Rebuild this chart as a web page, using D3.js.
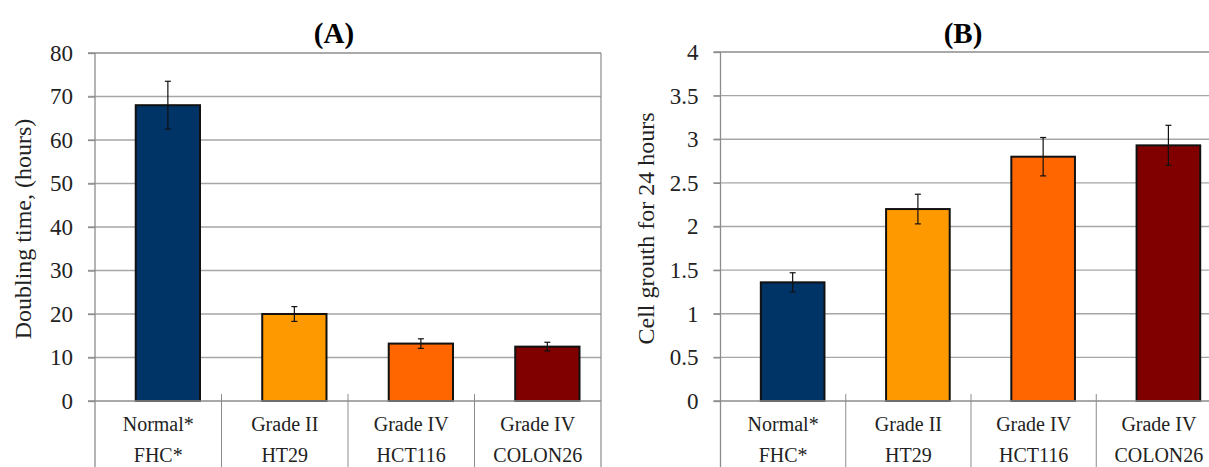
<!DOCTYPE html>
<html>
<head>
<meta charset="utf-8">
<script src="https://cdn.jsdelivr.net/npm/d3@7"></script>
<style>
  body { margin: 0; background: #fff; }
  svg text { font-family: "Liberation Serif", Tinos, "Times New Roman", Times, "DejaVu Serif", serif !important; }
</style>
</head>
<body>
<script>
// chart data
var gradeLabels = ["Normal*", "Grade II", "Grade IV", "Grade IV"];
var cellLines = ["FHC*", "HT29", "HCT116", "COLON26"];
var doublingTime = [68, 20, 13.2, 12.5];
var doublingErr = [5.5, 1.7, 1.1, 1.0];
var cellGrowth = [1.36, 2.2, 2.8, 2.93];
var growthErr = [0.11, 0.17, 0.22, 0.23];
var ticksA = [0, 10, 20, 30, 40, 50, 60, 70, 80];
var ticksB = [0, 0.5, 1, 1.5, 2, 2.5, 3, 3.5, 4];

var barColors = ["#003366", "#ff9900", "#ff6600", "#800000"];

var w = 1209, h = 467;

var svg = d3.select("body")
    .append("svg")
    .attr("width", w)
    .attr("height", h);

//draws one panel
function drawPanel(p){
    var g = svg.append("g");

    var x = d3.scaleBand()
        .domain(cellLines)
        .range([p.left, p.right]);

    var y = d3.scaleLinear()
        .domain([0, p.ticks[p.ticks.length - 1]])
        .range([p.bottom, p.top]);

    //gridlines
    g.selectAll(".grid")
        .data(p.ticks.slice(1))
        .enter()
        .append("line")
        .attr("x1", p.left - 7)
        .attr("x2", p.right)
        .attr("y1", function(d){ return y(d); })
        .attr("y2", function(d){ return y(d); })
        .style("stroke", function(d, i){ return i == p.ticks.length - 2 ? "#8c8c8c" : "#a6a6a6"; })
        .style("stroke-width", function(d, i){ return i == p.ticks.length - 2 ? 1.6 : 1.3; });

    //right border
    g.append("line")
        .attr("x1", p.right).attr("x2", p.right)
        .attr("y1", p.top).attr("y2", h)
        .style("stroke", "#8c8c8c")
        .style("stroke-width", 1.2);

    //y axis
    var yAxis = d3.axisLeft(y)
        .tickValues(p.ticks)
        .tickSize(7)
        .tickPadding(15)
        .tickFormat(d3.format(""));

    var axis = g.append("g")
        .attr("transform", "translate(" + p.left + ",0)")
        .call(yAxis);

    axis.select(".domain").remove();
    axis.selectAll(".tick line")
        .style("stroke", "#8c8c8c")
        .style("stroke-width", 1.3);
    axis.selectAll(".tick text")
        .style("font-size", "23px")
        .style("fill", "#222");

    g.append("line")
        .attr("x1", p.left).attr("x2", p.left)
        .attr("y1", p.top).attr("y2", h)
        .style("stroke", "#8c8c8c")
        .style("stroke-width", 1.3);

    //category dividers
    g.selectAll(".divider")
        .data(cellLines.slice(1))
        .enter()
        .append("line")
        .attr("x1", function(d){ return x(d); })
        .attr("x2", function(d){ return x(d); })
        .attr("y1", p.bottom - 7)
        .attr("y2", h)
        .style("stroke", "#8c8c8c")
        .style("stroke-width", 1);

    //bars
    g.selectAll(".bar")
        .data(p.values)
        .enter()
        .append("rect")
        .attr("x", function(d, i){ return x(cellLines[i]) + x.bandwidth() * 0.322; })
        .attr("width", x.bandwidth() * 0.508)
        .attr("y", function(d){ return y(d); })
        .attr("height", function(d){ return p.bottom - y(d); })
        .style("fill", function(d, i){ return barColors[i]; })
        .style("stroke", "#111")
        .style("stroke-width", 2);

    //zero axis line
    g.append("line")
        .attr("x1", p.left - 7).attr("x2", p.right)
        .attr("y1", p.bottom).attr("y2", p.bottom)
        .style("stroke", "#8c8c8c")
        .style("stroke-width", 1.6);

    //error bars
    var cx = function(i){ return x(cellLines[i]) + x.bandwidth() * 0.576; };
    var err = g.selectAll(".err")
        .data(p.values)
        .enter()
        .append("g")
        .style("stroke", "#111")
        .style("stroke-width", 1.2);

    err.append("line")
        .attr("x1", function(d, i){ return cx(i); })
        .attr("x2", function(d, i){ return cx(i); })
        .attr("y1", function(d, i){ return y(d + p.errors[i]); })
        .attr("y2", function(d, i){ return y(d - p.errors[i]); });
    [1, -1].forEach(function(s){
        err.append("line")
            .attr("x1", function(d, i){ return cx(i) - 3; })
            .attr("x2", function(d, i){ return cx(i) + 3; })
            .attr("y1", function(d, i){ return y(d + s * p.errors[i]); })
            .attr("y2", function(d, i){ return y(d + s * p.errors[i]); });
    });

    //category labels, two lines
    g.selectAll(".cat1")
        .data(gradeLabels)
        .enter()
        .append("text")
        .attr("x", function(d, i){ return x(cellLines[i]) + x.bandwidth() / 2; })
        .attr("y", 431)
        .attr("text-anchor", "middle")
        .style("font-size", "20px")
        .style("fill", "#222")
        .text(function(d){ return d; });

    g.selectAll(".cat2")
        .data(cellLines)
        .enter()
        .append("text")
        .attr("x", function(d){ return x(d) + x.bandwidth() / 2; })
        .attr("y", 462)
        .attr("text-anchor", "middle")
        .style("font-size", "20px")
        .style("fill", "#222")
        .text(function(d){ return d; });

    //y axis title
    g.append("text")
        .attr("transform", "translate(" + p.titleX + "," + ((p.top + p.bottom) / 2 + 2) + ") rotate(-90)")
        .attr("text-anchor", "middle")
        .style("font-size", "24px")
        .style("fill", "#222")
        .text(p.yTitle);

    //panel title
    g.append("text")
        .attr("x", p.headX)
        .attr("y", 43)
        .attr("text-anchor", "middle")
        .style("font-size", "29px")
        .style("font-weight", "bold")
        .style("fill", "#000")
        .text(p.head);
}

drawPanel({
    left: 95, right: 601, top: 53, bottom: 401,
    ticks: ticksA, values: doublingTime, errors: doublingErr,
    yTitle: "Doubling time, (hours)", titleX: 31,
    head: "(A)", headX: 334
});

drawPanel({
    left: 720.5, right: 1221.5, top: 52, bottom: 401,
    ticks: ticksB, values: cellGrowth, errors: growthErr,
    yTitle: "Cell grouth for 24 hours", titleX: 654,
    head: "(B)", headX: 963
});
</script>
</body>
</html>
